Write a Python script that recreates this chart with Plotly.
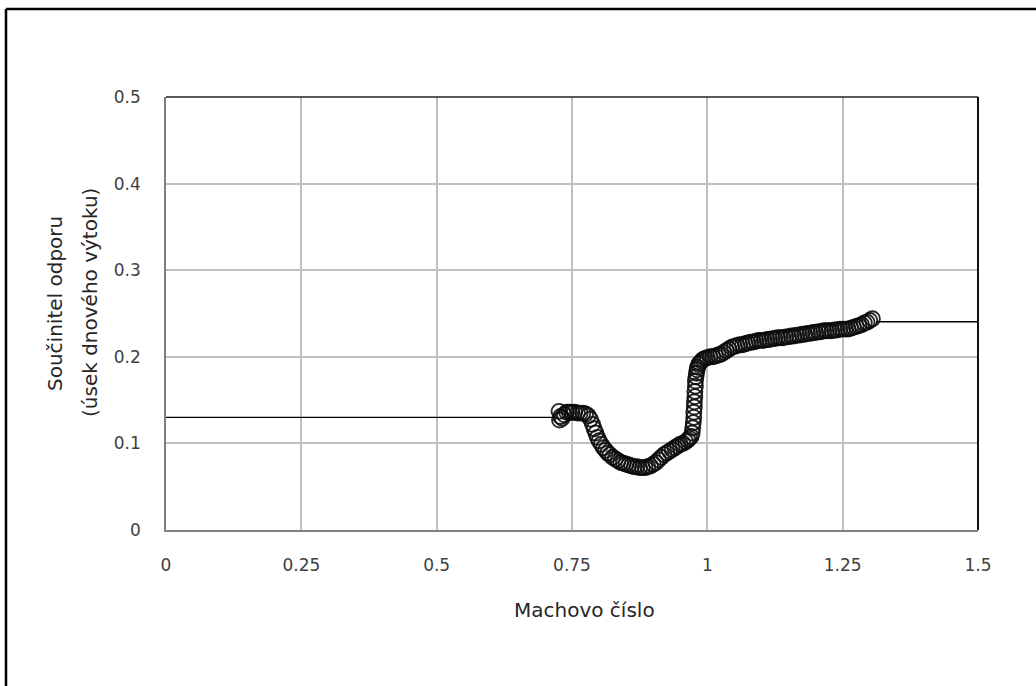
import plotly.graph_objects as go

# Measured points (Mach number, drag coefficient)
mach = [0.726, 0.727, 0.729, 0.732, 0.736, 0.740, 0.745, 0.750, 0.755, 0.760,
        0.765, 0.770, 0.775, 0.780, 0.784, 0.788, 0.791, 0.794, 0.797, 0.800,
        0.804, 0.808, 0.812, 0.816, 0.820, 0.825, 0.830, 0.835, 0.840, 0.845,
        0.850, 0.855, 0.860, 0.865, 0.870, 0.875, 0.880, 0.885, 0.890, 0.895,
        0.900, 0.905, 0.910, 0.915, 0.920, 0.925, 0.930, 0.935, 0.940, 0.945,
        0.950, 0.955, 0.960, 0.964, 0.967, 0.970, 0.972, 0.973, 0.974, 0.975,
        0.975, 0.976, 0.976, 0.977, 0.977, 0.978, 0.978, 0.979, 0.980, 0.981,
        0.982, 0.984, 0.986, 0.989, 0.992, 0.996, 1.000, 1.005, 1.010, 1.015,
        1.020, 1.025, 1.030, 1.035, 1.040, 1.045, 1.050, 1.055, 1.060, 1.065,
        1.070, 1.075, 1.080, 1.085, 1.090, 1.095, 1.100, 1.105, 1.110, 1.115,
        1.120, 1.125, 1.130, 1.135, 1.140, 1.145, 1.150, 1.155, 1.160, 1.165,
        1.170, 1.175, 1.180, 1.185, 1.190, 1.195, 1.200, 1.205, 1.210, 1.215,
        1.220, 1.225, 1.230, 1.235, 1.240, 1.245, 1.250, 1.255, 1.260, 1.265,
        1.270, 1.275, 1.280, 1.285, 1.290, 1.295, 1.300, 1.305]
cd = [0.137, 0.127, 0.131, 0.129, 0.133, 0.136, 0.136, 0.136, 0.136, 0.135,
      0.135, 0.135, 0.134, 0.132, 0.128, 0.122, 0.117, 0.112, 0.107, 0.103,
      0.099, 0.095, 0.092, 0.089, 0.087, 0.084, 0.082, 0.080, 0.078, 0.077,
      0.076, 0.075, 0.074, 0.073, 0.073, 0.072, 0.072, 0.072, 0.073, 0.074,
      0.076, 0.078, 0.081, 0.084, 0.087, 0.089, 0.091, 0.093, 0.095, 0.097,
      0.099, 0.100, 0.102, 0.104, 0.106, 0.108, 0.112, 0.118, 0.124, 0.130,
      0.136, 0.142, 0.148, 0.154, 0.160, 0.166, 0.172, 0.177, 0.181, 0.185,
      0.188, 0.191, 0.193, 0.195, 0.197, 0.198, 0.199, 0.200, 0.200, 0.201,
      0.202, 0.203, 0.205, 0.207, 0.209, 0.211, 0.212, 0.213, 0.214, 0.214,
      0.215, 0.216, 0.217, 0.217, 0.218, 0.219, 0.219, 0.219, 0.220, 0.220,
      0.221, 0.221, 0.222, 0.222, 0.222, 0.223, 0.223, 0.224, 0.224, 0.225,
      0.225, 0.226, 0.226, 0.227, 0.227, 0.228, 0.228, 0.229, 0.229, 0.230,
      0.230, 0.230, 0.230, 0.231, 0.231, 0.232, 0.232, 0.232, 0.232, 0.233,
      0.234, 0.235, 0.236, 0.237, 0.239, 0.240, 0.242, 0.244]

# Constant asymptotes
sub_x = [0.0, 0.725]
sub_y = [0.13, 0.13]
sup_x = [1.312, 1.5]
sup_y = [0.2405, 0.2405]

x_ticks = [0, 0.25, 0.5, 0.75, 1, 1.25, 1.5]
x_labels = ["0", "0.25", "0.5", "0.75", "1", "1.25", "1.5"]
y_ticks = [0, 0.1, 0.2, 0.3, 0.4, 0.5]
y_labels = ["0", "0.1", "0.2", "0.3", "0.4", "0.5"]

fig = go.Figure()
fig.add_trace(go.Scatter(x=sub_x, y=sub_y, mode="lines",
                         line=dict(color="black", width=1.3), showlegend=False))
fig.add_trace(go.Scatter(x=sup_x, y=sup_y, mode="lines",
                         line=dict(color="black", width=1.3), showlegend=False))
fig.add_trace(go.Scatter(x=mach, y=cd, mode="markers",
                         marker=dict(symbol="circle-open", size=15, color="rgba(10,10,10,0.88)",
                                     line=dict(width=1.9)),
                         showlegend=False))

family = "DejaVu Sans, Verdana, sans-serif"
tfont = dict(family=family, size=17, color="#404040")
title_font = dict(family=family, size=20, color="#262626")

fig.update_layout(
    width=1036, height=686,
    margin=dict(l=166, r=58, t=97, b=156),
    paper_bgcolor="white", plot_bgcolor="white",
    font=tfont,
    xaxis=dict(range=[0, 1.5], tickvals=x_ticks, ticktext=x_labels,
               showgrid=True, gridcolor="#bfbfbf", gridwidth=1.5,
               showline=True, linecolor="#808080", linewidth=1.5,
               zeroline=False, ticks="", ticklabelstandoff=19,
               tickfont=tfont),
    yaxis=dict(range=[0, 0.5], tickvals=y_ticks, ticktext=y_labels,
               showgrid=True, gridcolor="#bfbfbf", gridwidth=1.5,
               showline=True, linecolor="#808080", linewidth=1.5,
               zeroline=False, ticks="", ticklabelstandoff=20,
               tickfont=tfont),
    shapes=[
        # plot area top and right edges
        dict(type="line", xref="paper", yref="paper", x0=0, x1=1, y0=1, y1=1,
             line=dict(color="#222222", width=1.5)),
        dict(type="line", xref="paper", yref="paper", x0=1, x1=1, y0=0, y1=1,
             line=dict(color="#111111", width=2)),
        # outer chart border (left & top visible)
        dict(type="line", xref="paper", yref="paper",
             x0=-160/812, x1=-160/812, y0=(530-690)/433, y1=(530-9)/433,
             line=dict(color="black", width=2.5)),
        dict(type="line", xref="paper", yref="paper",
             x0=-160/812, x1=(1040-166)/812, y0=(530-9)/433, y1=(530-9)/433,
             line=dict(color="black", width=2.5)),
    ],
    annotations=[
        dict(text="Machovo číslo", xref="paper", yref="paper",
             x=(584-166)/812, y=(530-610)/433, showarrow=False,
             xanchor="center", yanchor="middle", font=title_font),
        dict(text="Součinitel odporu", xref="paper", yref="paper",
             x=(55-166)/812, y=(530-304)/433, showarrow=False, textangle=-90,
             xanchor="center", yanchor="middle", font=title_font),
        dict(text="(úsek dnového výtoku)", xref="paper", yref="paper",
             x=(90-166)/812, y=(530-303)/433, showarrow=False, textangle=-90,
             xanchor="center", yanchor="middle", font=title_font),
    ],
)

fig.write_html("out.html")
